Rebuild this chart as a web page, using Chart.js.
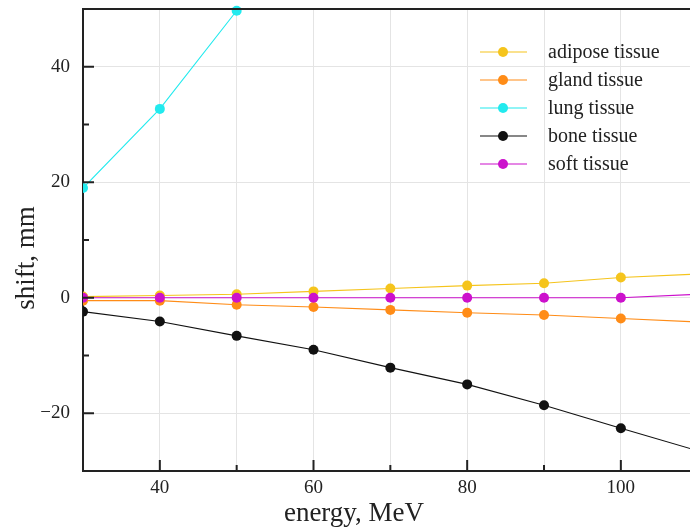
<!DOCTYPE html>

<head>
  <script src="https://cdn.jsdelivr.net/npm/chart.js@4.4.0/dist/chart.umd.min.js"></script>
  <style>
    body {
      margin: 0;
      background: #fff;
      overflow: hidden;
    }
  </style>
</head>

<body>
  <div id='container' style='width : 690px ; height : 529px;'>
    <canvas id="graph" width="690" height="529"></canvas>
  </div>

  <script>
    // energies, MeV
    var energy = [30, 40, 50, 60, 70, 80, 90, 100, 110];

    // shift, mm
    var adipose = [0.2, 0.4, 0.6, 1.1, 1.6, 2.1, 2.5, 3.5, 4.1];
    var gland = [-0.5, -0.5, -1.2, -1.6, -2.1, -2.6, -3.0, -3.6, -4.2];
    var lung = [19.0, 32.7, 49.7, null, null, null, null, null, null];
    var bone = [-2.4, -4.1, -6.6, -9.0, -12.1, -15.0, -18.6, -22.6, -26.5];
    var soft = [0, 0, 0, 0, 0, 0, 0, 0, 0.6];

    var names = ['adipose tissue', 'gland tissue', 'lung tissue', 'bone tissue', 'soft tissue'];
    var colours = ['#f5c41c', '#ff8c17', '#22eaee', '#111111', '#cc11cc'];

    var yLabels = [-20, 0, 20, 40];
    var xLabels = [40, 60, 80, 100];

    var serif = '"Liberation Serif", "Times New Roman", serif';

    function makeSet(i, values) {
      return {
        label: names[i],
        data: energy.map((e, k) => ({ x: e, y: values[k] })),
        borderColor: colours[i],
        backgroundColor: colours[i],
        pointBackgroundColor: colours[i],
        pointBorderWidth: 0,
        pointRadius: 5,
        borderWidth: 1.1,
        order: i == 4 ? 0 : 1,
        clip: { left: 0, top: 6, right: 0, bottom: 0 }
      };
    }

    // inward ticks, top frame, legend and axis titles
    var decor = {
      id: 'decor',
      afterDraw: (chart) => {
        var ctx = chart.ctx;
        var a = chart.chartArea;
        var xs = chart.scales.x;
        var ys = chart.scales.y;

        ctx.save();
        ctx.strokeStyle = '#222';
        ctx.lineWidth = 2;
        ctx.beginPath();
        ctx.moveTo(a.left - 1, a.top);
        ctx.lineTo(a.right, a.top);
        for (var v = -20; v <= 40; v += 10) {
          var py = ys.getPixelForValue(v);
          var len = v % 20 == 0 ? 11 : 6;
          ctx.moveTo(a.left, py);
          ctx.lineTo(a.left + len, py);
        }
        for (var v = 40; v <= 100; v += 10) {
          var px = xs.getPixelForValue(v);
          var len = v % 20 == 0 ? 11 : 6;
          ctx.moveTo(px, a.bottom);
          ctx.lineTo(px, a.bottom - len);
        }
        ctx.stroke();

        // legend
        ctx.font = '20px ' + serif;
        ctx.textBaseline = 'middle';
        ctx.textAlign = 'left';
        chart.data.datasets.forEach((ds, i) => {
          var ly = 52 + i * 28;
          ctx.strokeStyle = ds.borderColor;
          ctx.lineWidth = 1.1;
          ctx.beginPath();
          ctx.moveTo(480, ly);
          ctx.lineTo(527, ly);
          ctx.stroke();
          ctx.fillStyle = ds.borderColor;
          ctx.beginPath();
          ctx.arc(503, ly, 5, 0, Math.PI * 2);
          ctx.fill();
          ctx.fillStyle = '#222';
          ctx.fillText(ds.label, 548, ly + 1);
        });

        // axis titles
        ctx.font = '27px ' + serif;
        ctx.textAlign = 'center';
        ctx.fillStyle = '#222';
        ctx.fillText('energy, MeV', 354, 514);
        ctx.translate(27, 258);
        ctx.rotate(-Math.PI / 2);
        ctx.fillText('shift, mm', 0, 0);
        ctx.restore();
      }
    };

    var chart;

    var ctx = document.getElementById("graph");

    chart = new Chart(ctx, {
      type: 'line',
      data: {
        datasets: [
          makeSet(0, adipose),
          makeSet(1, gland),
          makeSet(2, lung),
          makeSet(3, bone),
          makeSet(4, soft)
        ]
      },
      options: {
        responsive: false,
        animation: false,
        devicePixelRatio: 1,
        layout: { autoPadding: false, padding: { top: 9, left: 0, right: 0, bottom: 0 } },
        plugins: {
          legend: { display: false },
          tooltip: { enabled: false }
        },
        scales: {
          x: {
            type: 'linear',
            min: 30,
            max: 109,
            afterBuildTicks: (scale) => {
              scale.ticks = [30, 40, 50, 60, 70, 80, 90, 100].map((v) => ({ value: v }));
            },
            afterFit: (scale) => {
              scale.height = 58;
              scale.paddingLeft = 0;
              scale.paddingRight = 0;
            },
            ticks: {
              padding: 6,
              maxRotation: 0,
              color: '#222',
              font: { family: serif, size: 19 },
              callback: (v) => xLabels.indexOf(v) >= 0 ? String(v) : ''
            },
            grid: {
              color: '#e4e4e4',
              lineWidth: 1,
              drawTicks: false
            },
            border: { color: '#222', width: 2 }
          },
          y: {
            min: -30,
            max: 50,
            afterBuildTicks: (scale) => {
              var t = [];
              for (var v = -30; v <= 50; v += 10) t.push({ value: v });
              scale.ticks = t;
            },
            afterFit: (scale) => {
              scale.width = 83;
              scale.paddingTop = 0;
              scale.paddingBottom = 0;
            },
            ticks: {
              padding: 13,
              color: '#222',
              font: { family: serif, size: 19 },
              callback: (v) => yLabels.indexOf(v) >= 0 ? String(v).replace('-', '\u2212') : ''
            },
            grid: {
              color: (c) => (c.tick && c.tick.value % 20 == 0 && c.tick.value > -30) ? '#e4e4e4' : 'rgba(0,0,0,0)',
              lineWidth: 1,
              drawTicks: false
            },
            border: { color: '#222', width: 2 }
          }
        }
      },
      plugins: [decor]
    });
  </script>

</body>
